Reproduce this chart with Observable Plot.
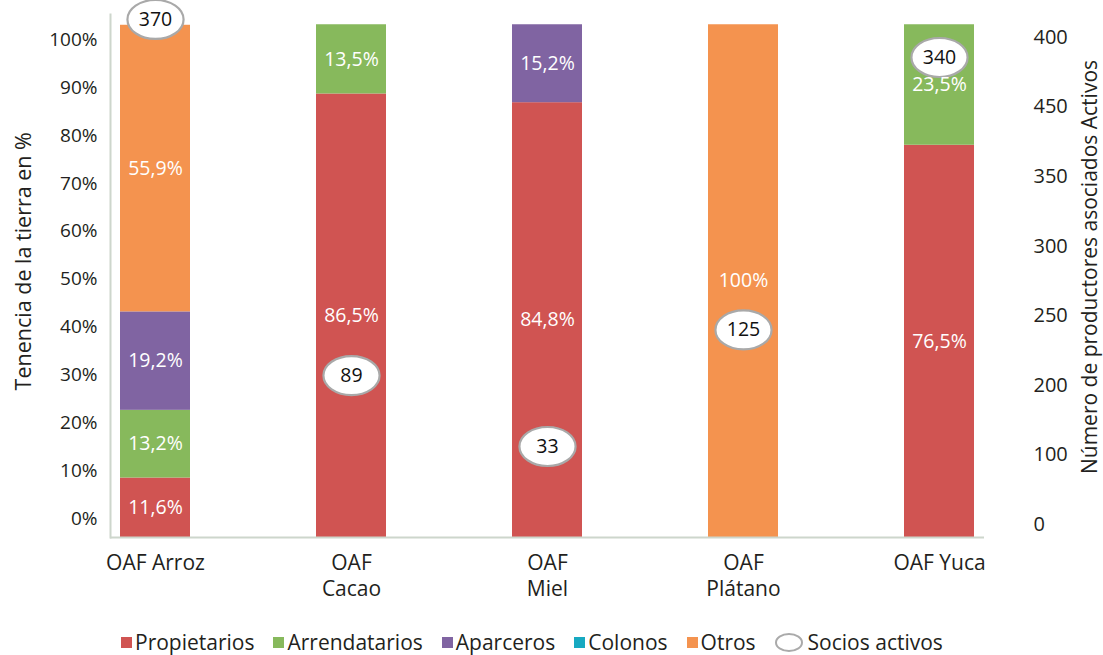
<!DOCTYPE html>
<html>
<head>
<meta charset="utf-8">
<script src="https://cdn.jsdelivr.net/npm/d3@7"></script>
<script src="https://cdn.jsdelivr.net/npm/@observablehq/plot@0.6"></script>
<style>
  body { margin: 0; background: #fff; font-family: 'Open Sans', sans-serif; color: #231f20; }
  #wrap { position: relative; width: 1103px; height: 655px; overflow: hidden; }
  #chart { position: absolute; left: 0; top: 0; width: 1103px; height: 600px; }
  #chart svg { position: absolute; left: 0; top: 0; }
  #legend { position: absolute; left: 121px; top: 631px; display: flex; align-items: center; font-size: 21px; line-height: 22px; white-space: nowrap; }
  .item { display: flex; align-items: center; margin-right: 19px; }
  .sw { width: 11px; height: 11px; margin-right: 3px; }
  .ell { width: 24px; height: 15px; border: 2px solid #aaaaaa; border-radius: 50%; margin-right: 5px; box-sizing: content-box; }
</style>
</head>
<body>
<div id="wrap">
  <div id="chart"></div>
  <div id="legend"></div>
</div>
<script>
// ---- data ----
const categories = ["OAF Arroz", "OAF Cacao", "OAF Miel", "OAF Plátano", "OAF Yuca"];
const xTickLabels = ["OAF Arroz", "OAF\nCacao", "OAF\nMiel", "OAF\nPlátano", "OAF Yuca"];
const series = ["Propietarios", "Arrendatarios", "Aparceros", "Colonos", "Otros"];
const propietarios = [11.6, 86.5, 84.8, 0, 76.5];
const arrendatarios = [13.2, 13.5, 0, 0, 23.5];
const aparceros = [19.2, 0, 15.2, 0, 0];
const colonos = [0, 0, 0, 0, 0];
const otros = [55.9, 0, 0, 100, 0];
const sociosActivos = [370, 89, 33, 125, 340];
const leftTicks = [0, 10, 20, 30, 40, 50, 60, 70, 80, 90, 100];
const rightTickLabels = ["0", "100", "200", "250", "300", "350", "450", "400"];
const leftTitle = "Tenencia de la tierra en %";
const rightTitle = "Número de productores asociados Activos";
const legendSocios = "Socios activos";
const colors = ["#d05452", "#87b95c", "#8064a2", "#17a9c1", "#f4934f"];

// ---- build ----
const seriesValues = [propietarios, arrendatarios, aparceros, colonos, otros];
const tidy = [];
series.forEach((s, si) => {
  categories.forEach((c, ci) => {
    const v = seriesValues[si][ci];
    if (v > 0) tidy.push({cat: c, series: s, value: v});
  });
});
const fmt = v => (v === 100 ? "100" : v.toFixed(1).replace(".", ",")) + "%";

const W = 1103, H = 600;
const textColor = "#231f20";
const lineColor = "#cdd6cc";
const baseStyle = {background: "transparent", fontFamily: "'Open Sans', sans-serif", color: textColor, overflow: "visible"};
const xOpts = {type: "band", domain: categories, paddingInner: 0.644, paddingOuter: 0.046, axis: null};
const barFrame = {width: W, height: H, marginLeft: 110, marginRight: 119, marginTop: 14, marginBottom: 63};

const ellipseSymbol = {
  draw(ctx, size) {
    const r = Math.sqrt(size / Math.PI);
    const rx = r * 1.44, ry = r, k = 0.5523;
    ctx.moveTo(rx, 0);
    ctx.bezierCurveTo(rx, ry * k, rx * k, ry, 0, ry);
    ctx.bezierCurveTo(-rx * k, ry, -rx, ry * k, -rx, 0);
    ctx.bezierCurveTo(-rx, -ry * k, -rx * k, -ry, 0, -ry);
    ctx.bezierCurveTo(rx * k, -ry, rx, -ry * k, rx, 0);
    ctx.closePath();
  }
};

// bars (percent scale)
const bars = Plot.plot({
  ...barFrame,
  style: baseStyle,
  x: xOpts,
  y: {domain: [0, 102], axis: null},
  color: {domain: series, range: colors},
  marks: [
    Plot.barY(tidy, {x: "cat", y: "value", fill: "series", z: "series"}),
    Plot.axisX({tickSize: 0, tickPadding: 14, tickFormat: d => xTickLabels[categories.indexOf(d)], fontSize: 21, lineHeight: 1.24, label: null}),
    Plot.ruleY([0], {stroke: lineColor, strokeWidth: 2}),
    Plot.frame({anchor: "left", stroke: lineColor, strokeWidth: 2})
  ]
});

// bar value labels (same percent scale, drawn on top)
const barLabels = Plot.plot({
  ...barFrame,
  style: baseStyle,
  x: xOpts,
  y: {domain: [0, 102], axis: null},
  marks: [
    Plot.text(tidy, Plot.stackY({x: "cat", y: "value", z: "series", text: d => fmt(d.value), fill: "white", fontSize: 19.5}))
  ]
});

// left axis
const leftAxis = Plot.plot({
  width: W, height: H,
  marginLeft: 110, marginRight: 119, marginTop: 39.5, marginBottom: 82,
  style: baseStyle,
  y: {domain: [0, 100]},
  marks: [
    Plot.axisY({ticks: leftTicks, tickSize: 0, tickPadding: 13, tickFormat: d => d + "%", fontSize: 19, label: null}),
    Plot.text([leftTitle], {frameAnchor: "left", textAnchor: "middle", lineAnchor: "middle", text: d => d, rotate: -90, dx: -86, dy: -18, fontSize: 21.5})
  ]
});

// right axis
const rightAxis = Plot.plot({
  width: W, height: H,
  marginLeft: 110, marginRight: 83, marginTop: 37, marginBottom: 76,
  style: baseStyle,
  y: {domain: [0, rightTickLabels.length - 1]},
  marks: [
    Plot.axisY({anchor: "right", ticks: d3.range(rightTickLabels.length), tickFormat: i => rightTickLabels[i], tickSize: 0, tickPadding: 13, fontSize: 20, label: null}),
    Plot.text([rightTitle], {frameAnchor: "right", textAnchor: "middle", lineAnchor: "middle", text: d => d, rotate: -90, dx: 70, dy: -14, fontSize: 21})
  ]
});

// socios activos (own linear scale)
const socios = Plot.plot({
  width: W, height: H,
  marginLeft: 110, marginRight: 119, marginTop: 6.3, marginBottom: 112.2,
  style: baseStyle,
  x: xOpts,
  y: {domain: [0, 380], axis: null},
  marks: [
    Plot.dot(categories, {x: d => d, y: (d, i) => sociosActivos[i], r: 19.5, symbol: ellipseSymbol, fill: "white", stroke: "#a9a9a9", strokeWidth: 2.2}),
    Plot.text(categories, {x: d => d, y: (d, i) => sociosActivos[i], text: (d, i) => String(sociosActivos[i]), fontSize: 19.5, fill: "#111"})
  ]
});

const chart = document.getElementById("chart");
[bars, leftAxis, rightAxis, socios, barLabels].forEach(svg => chart.appendChild(svg));

// legend
const legend = document.getElementById("legend");
series.forEach((s, i) => {
  const it = document.createElement("div");
  it.className = "item";
  it.innerHTML = `<span class="sw" style="background:${colors[i]}"></span><span>${s}</span>`;
  legend.appendChild(it);
});
const it = document.createElement("div");
it.className = "item";
it.innerHTML = `<span class="ell"></span><span>${legendSocios}</span>`;
legend.appendChild(it);
</script>
</body>
</html>
